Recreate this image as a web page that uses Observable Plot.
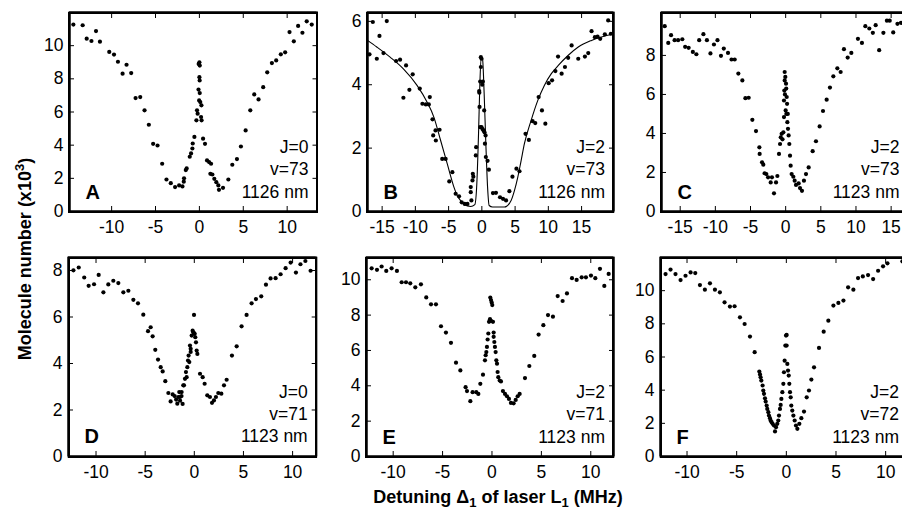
<!DOCTYPE html>
<html><head><meta charset="utf-8">
<script src="https://cdn.jsdelivr.net/npm/d3@7"></script>
<script src="https://cdn.jsdelivr.net/npm/@observablehq/plot@0.6"></script>
<style>
html,body{margin:0;padding:0;background:#fff;overflow:hidden}
#fig{position:relative;width:902px;height:508px;overflow:hidden;background:#fff;font-family:'Liberation Sans',Arial,Helvetica,sans-serif}
#fig .panel{position:absolute}
#fig .box{position:absolute;border:2px solid #000;box-sizing:border-box;pointer-events:none;z-index:5}
.title{position:absolute;font-weight:bold;font-size:18px;line-height:18px;white-space:nowrap;color:#000}
#xtitle{left:498px;top:488px;transform:translateX(-50%)}
#ytitle{left:25.3px;top:259px;transform:translate(-50%,-50%) rotate(-90deg)}
.title sub{font-size:13px;vertical-align:-3.5px;line-height:0}
.title sup{font-size:13px;vertical-align:7px;line-height:0}
</style>
</head><body>
<div id="fig">
  <div class="title" id="xtitle">Detuning Δ<sub>1</sub> of laser L<sub>1</sub> (MHz)</div>
  <div class="title" id="ytitle">Molecule number (x10<sup>3</sup>)</div>
</div>
<script>
// ---------- data ----------
const letters = ["A","B","C","D","E","F"];
const infoJ = ["J=0","J=2","J=2","J=0","J=2","J=2"];
const infoV = ["v=73","v=73","v=73","v=71","v=71","v=72"];
const infoNm = ["1126 nm","1126 nm","1123 nm","1123 nm","1123 nm","1123 nm"];

const xTicksA = [-10,-5,0,5,10];
const xTicksBC = [-15,-10,-5,0,5,10,15];
const xTicksDEF = [-10,-5,0,5,10];
const yTicksA = [0,2,4,6,8,10];
const yTicksB = [0,2,4,6];
const yTicksC = [0,2,4,6,8];
const yTicksD = [0,2,4,6,8];
const yTicksE = [0,2,4,6,8,10];
const yTicksF = [0,2,4,6,8,10];

const aX = [-14.36,-13.3,-12.84,-12.3,-11.78,-11.33,-10.27,-9.73,-9.28,-8.75,-8.3,-7.77,-7.27,-6.74,-6.25,-5.76,-5.27,-4.77,-4.24,-3.75,-3.26,-2.77,-2.31,-1.93,-1.78,-1.75,-1.55,-1.45,-1.1,-0.95,-0.8,-0.76,-0.57,-0.34,-0.27,-0.2,-0.08,0,0.04,0,0.03,-0.1,0.04,-0.03,0.1,0.23,0.19,0.25,0.42,0.64,0.87,1.1,1.33,1.25,1.48,1.7,1.93,2.16,2.23,2.69,3.3,3.75,4.28,4.73,5.27,5.8,6.25,6.74,7.27,7.73,8.26,8.75,9.28,9.77,10.27,10.76,11.25,11.74,12.23,12.8];
const aY = [11.27,11.23,10.42,10.28,10.88,10.24,9.62,9.46,9.03,8.31,8.85,8.35,6.84,6.9,6.1,5.23,4.08,3.98,2.88,1.93,1.71,1.47,1.57,1.51,1.8,2.0,2.5,2.6,3.3,3.5,3.8,4.1,4.5,5.5,6.1,5.9,8.9,9.0,8.8,8.1,7.9,7.35,7.14,6.7,6.6,6.4,5.7,5.5,4.39,4.08,3.08,2.98,2.88,2.27,2.23,1.97,1.77,1.57,1.31,1.43,1.93,2.82,3.16,3.92,4.89,6.1,7.06,6.76,7.5,8.39,8.95,9.11,9.48,9.6,10.82,10.26,11.19,10.78,11.47,11.27];

const bX = [-16.9,-16.4,-15.8,-15.4,-14.8,-14.3,-12.9,-12.3,-11.8,-11.4,-10.9,-10.4,-9.34,-8.94,-8.43,-7.98,-7.83,-7.42,-7.32,-6.97,-6.92,-6.36,-5.96,-5.45,-4.9,-4.44,-3.94,-3.43,-3.03,-2.58,-2.17,-1.67,-1.67,-1.57,-1.41,-1.36,-1.28,-0.91,-0.86,-0.4,-0.38,-0.25,-0.15,-0.05,-0.15,-0.05,-0.25,-0.35,0.1,0.25,0.15,0.05,0.35,0.4,0.56,0.46,0.6,0.86,1.06,1.67,2.12,2.73,3.18,3.64,4.14,4.6,5.2,5.66,6.57,7.07,7.63,8.03,8.54,9.04,9.55,10.05,10.56,11.06,11.46,12.0,12.5,12.98,13.5,14.5,15.5,16.0,16.5,17.0,17.4,17.8,18.5,19.0,19.4];
const bY = [4.96,5.98,4.82,5.54,5.0,6.01,4.75,4.79,3.59,4.61,3.84,4.33,3.88,3.4,3.38,3.38,3.61,2.91,2.4,2.56,2.24,2.58,1.66,1.66,0.95,1.24,0.56,0.48,0.29,0.24,0.24,0.61,0.77,0.35,0.98,1.19,1.1,1.77,2.03,3.8,3.75,4.1,4.87,4.82,4.56,2.66,2.66,3.3,2.6,2.56,4.1,4.0,3.19,2.5,2.4,2.14,1.72,1.6,1.32,0.58,0.59,0.45,0.4,0.35,0.64,1.1,1.35,1.27,2.45,2.26,2.85,2.79,3.61,3.19,2.77,4.05,4.14,4.43,4.89,4.35,4.56,4.85,5.24,4.82,4.89,5.0,5.69,5.5,5.52,5.45,5.59,6.03,5.61];
const bFitX = [-17.2,-15.8,-13.8,-11.8,-9.75,-8.23,-7.22,-6.2,-5.2,-4.2,-3.7,-3.2,-2.7,-1.67,-1.06,-0.76,-0.5,-0.3,-0.1,0.1,0.35,0.6,0.86,1.1,1.6,3.4,4.4,4.9,5.4,5.9,6.4,7.4,8.4,9.4,10.45,11.5,13,14.5,16.5,19.8];
const bFitY = [5.4,5.19,4.87,4.5,3.98,3.45,2.98,2.24,1.5,0.77,0.5,0.35,0.22,0.16,0.22,0.87,2.45,4.03,4.87,4.82,3.7,2.14,0.77,0.19,0.14,0.14,0.35,0.66,1.08,1.6,2.14,2.87,3.5,3.98,4.35,4.61,4.93,5.19,5.4,5.6];

const cX = [-17.2,-16.7,-16.3,-15.8,-15.3,-14.7,-14.3,-13.8,-13.2,-12.7,-12.3,-11.7,-11.2,-10.7,-10.2,-9.7,-9.2,-8.8,-8.2,-7.7,-7.25,-6.73,-6.16,-5.73,-5.26,-4.74,-4.22,-3.74,-3.7,-3.36,-3.18,-2.99,-2.75,-2.5,-2.13,-1.95,-1.66,-1.37,-1.18,-0.95,-0.8,-0.7,-0.57,-0.45,-0.33,-0.24,-0.24,-0.19,-0.14,-0.14,-0.1,0,0.1,0.24,0.33,0.42,0.52,0.62,0.71,0.85,1.09,1.28,1.47,1.85,2.04,2.32,2.6,2.89,3.27,3.84,4.31,4.83,5.31,5.83,6.3,6.78,7.35,7.82,8.29,8.82,9.34,10.28,10.85,11.33,11.9,12.4,12.8,13.3,13.9,14.4,14.8,15.3,15.9,16.4,-0.05,0.05,0.08,0.15,0.2,0.3];
const cY = [9.5,8.64,9.04,8.78,8.78,8.83,8.44,8.39,8.18,8.06,8.78,9.09,8.78,8.1,8.56,8.78,7.98,8.35,8.13,7.79,7.79,7.07,6.72,5.81,5.83,4.7,4.12,3.29,2.95,2.52,2.4,1.96,1.92,1.75,1.49,1.75,0.93,1.49,1.82,2.95,3.46,3.8,3.98,3.7,4.06,4.84,5.69,6.2,6.72,7.15,6.0,5.18,5.0,4.58,4.24,3.9,3.46,2.86,2.35,1.92,1.78,1.58,1.36,1.44,1.2,1.06,1.58,1.92,2.26,3.09,3.6,4.36,5.15,5.73,6.35,6.93,7.34,7.15,8.32,7.89,8.13,8.85,8.64,9.5,9.38,9.16,9.55,8.27,9.16,9.78,9.78,9.18,9.62,9.67,6.9,6.55,6.3,5.87,5.52,5.0];

const dX = [-12.3,-11.76,-11.2,-10.75,-10.2,-9.73,-9.25,-8.75,-8.24,-7.73,-7.22,-6.71,-6.2,-5.73,-5.19,-4.71,-4.44,-4.24,-3.97,-3.69,-3.42,-3.22,-2.95,-2.64,-2.41,-2.2,-2.0,-1.85,-1.73,-1.63,-1.53,-1.45,-1.3,-1.19,-1.12,-0.95,-0.85,-0.71,-0.64,-0.58,-0.44,-0.37,-0.27,-0.17,-0.03,0,0.03,0.1,0.17,0.24,0.31,0.58,0.85,1.05,1.32,1.59,1.8,2.0,2.2,2.44,2.75,3.02,3.29,3.83,4.31,4.81,5.32,5.83,6.27,6.81,7.29,7.76,8.27,8.78,9.29,9.8,10.34,10.8,11.3,11.83,-1.46,-1.29,-1.05,-0.78,-0.51,-0.37,-0.1];
const dY = [8.01,8.13,7.7,7.34,7.41,7.81,7.06,7.4,7.56,7.46,7.06,7.13,6.74,6.59,6.1,5.39,5.56,5.17,4.59,4.17,3.84,3.66,3.24,2.73,2.37,2.67,2.6,2.45,2.27,2.56,2.77,2.4,2.6,2.26,3.06,3.34,3.63,3.84,4.13,4.34,4.77,4.5,5.2,5.41,6.09,5.3,5.27,5.13,4.91,4.56,4.41,3.56,3.41,3.13,2.63,2.56,2.31,2.41,2.56,2.73,2.7,3.06,3.3,4.34,4.74,5.6,6.09,6.59,6.77,6.89,7.39,7.66,7.67,7.84,8.1,8.34,7.91,8.27,8.41,7.99,2.56,2.77,3.06,3.41,4.06,4.63,5.34];

const eX = [-12.18,-11.64,-11.17,-10.7,-10.16,-9.62,-9.14,-8.7,-8.27,-7.76,-7.19,-6.65,-6.17,-5.67,-5.16,-4.66,-4.15,-3.64,-3.2,-2.67,-2.53,-2.19,-1.96,-1.59,-1.38,-1.18,-0.91,-0.71,-0.64,-0.57,-0.51,-0.44,-0.37,-0.3,-0.2,-0.17,-0.1,-0.03,0.03,-0.1,0.1,0.17,0.17,0.24,0.3,0.37,0.44,0.51,0.57,0.64,0.78,0.91,1.11,1.32,1.52,1.72,1.92,2.19,2.4,2.6,2.8,3.34,3.78,4.28,4.72,5.2,5.67,6.17,6.65,7.15,7.59,8.1,8.57,9.08,9.51,10.02,10.46,10.93,11.37,11.81];
const eY = [10.65,10.56,10.75,10.5,10.65,10.5,9.86,9.86,9.8,9.57,9.74,9.0,8.61,8.61,7.37,7.01,6.43,5.31,4.87,3.92,3.7,3.13,3.64,3.64,3.54,4.11,4.63,5.44,5.73,5.91,6.2,6.62,6.96,7.62,7.77,8.99,8.85,8.72,8.57,7.67,7.62,7.01,6.77,6.48,6.2,5.91,5.44,5.25,4.78,4.49,4.3,4.25,3.7,3.54,3.41,3.26,3.03,3.01,3.2,3.41,3.54,4.44,5.12,5.69,6.9,7.43,8.0,7.91,9.08,8.8,9.23,10.09,9.99,10.14,10.14,10.24,10.09,10.62,9.65,10.33];

const fX = [-12.16,-11.66,-11.16,-10.65,-10.15,-9.64,-9.17,-8.7,-8.2,-7.69,-7.19,-6.69,-6.22,-5.68,-5.21,-4.67,-4.2,-3.66,-3.19,-2.72,-2.65,-2.59,-2.52,-2.39,-2.32,-2.25,-2.15,-2.08,-1.98,-1.92,-1.81,-1.75,-1.65,-1.58,-1.48,-1.38,-1.24,-1.14,-1.04,-0.91,-0.81,-0.74,-0.64,-0.57,-0.5,-0.4,-0.3,-0.24,-0.17,-0.1,-0.03,0.03,0.03,0.1,0.17,0.24,0.3,0.37,0.44,0.5,0.6,0.71,0.84,0.97,1.11,1.31,1.51,1.78,2.05,2.28,2.52,2.79,3.29,3.76,4.23,4.74,5.24,5.75,6.22,6.75,7.22,7.7,8.23,8.74,9.24,9.74,10.18,11.69];
const fY = [11.0,11.27,11.0,10.64,10.9,11.1,11.06,10.34,10.06,10.44,10.06,9.9,9.3,9.04,9.06,8.39,7.99,7.23,6.29,5.12,4.95,4.78,4.58,4.28,3.98,3.78,3.51,3.31,3.07,2.87,2.67,2.47,2.31,2.17,2.07,1.97,1.87,1.51,1.77,1.97,2.17,2.47,2.87,3.11,3.47,3.88,4.38,5.08,5.78,6.69,7.29,7.33,6.69,5.58,5.18,4.88,4.38,3.88,3.57,3.07,2.77,2.47,2.17,1.87,1.67,1.97,2.31,2.71,3.57,3.98,4.64,5.38,6.55,7.53,8.19,9.1,9.26,9.4,10.2,10.06,10.76,10.86,10.94,10.7,11.2,11.47,11.65,11.77];

// ---------- layout (frame placement in page pixels) ----------
const frames = [
  {left:68.5, top:12, w:247.5, h:199, xd:[-14.8,13.4], yd:[0,12.0]},
  {left:366.5, top:12, w:246, h:199, xd:[-17.2,19.8], yd:[0,6.28]},
  {left:660.5, top:12, w:246.5, h:199, xd:[-17.66,17.4], yd:[0,10.2]},
  {left:68.3, top:257, w:247.7, h:199, xd:[-12.8,12.4], yd:[0,8.56]},
  {left:365.7, top:257, w:247, h:199, xd:[-12.7,12.3], yd:[0,11.26]},
  {left:660, top:257, w:247, h:199, xd:[-12.67,12.2], yd:[0,12.0]}
];
const xs = [aX,bX,cX,dX,eX,fX], ys = [aY,bY,cY,dY,eY,fY];
const xT = [xTicksA,xTicksBC,xTicksBC,xTicksDEF,xTicksDEF,xTicksDEF];
const yT = [yTicksA,yTicksB,yTicksC,yTicksD,yTicksE,yTicksF];

const ML=50, MR=10, MT=8, MB=34;
const FONT = "'Liberation Sans', Arial, Helvetica, sans-serif";
const fig = document.getElementById("fig");
const fmt = d => String(d);
const blank = () => "";

frames.forEach((f,i) => {
  const pts = xs[i].map((x,k) => ({x, y: ys[i][k]}));
  const marks = [
    Plot.axisX(xT[i], {anchor:"bottom", tickSize:0, tickPadding:9, tickFormat:fmt, label:null}),
    Plot.axisY(yT[i], {anchor:"left", tickSize:0, tickPadding:6, tickFormat:fmt, label:null}),
    Plot.axisX(xT[i], {anchor:"bottom", tickSize:-5, tickFormat:blank, label:null}),
    Plot.axisY(yT[i], {anchor:"left", tickSize:-5, tickFormat:blank, label:null}),
    Plot.axisX(xT[i], {anchor:"top", tickSize:-5, tickFormat:blank, label:null}),
    Plot.axisY(yT[i], {anchor:"right", tickSize:-5, tickFormat:blank, label:null})
  ];
  if (i === 1) {
    const fit = bFitX.map((x,k) => ({x, y: bFitY[k]}));
    marks.push(Plot.line(fit, {x:"x", y:"y", stroke:"#000", strokeWidth:1.1, curve:"monotone-x"}));
  }
  marks.push(Plot.dot(pts, {x:"x", y:"y", r:2.1, fill:"#000", stroke:"none"}));
  marks.push(Plot.text([letters[i]], {text:d=>d, frameAnchor:"bottom-left", textAnchor:"start", lineAnchor:"bottom", dx:16, dy:-13, fontWeight:"bold", fontSize:20}));
  marks.push(Plot.text([`${infoJ[i]}\n${infoV[i]}\n${infoNm[i]}`], {text:d=>d, frameAnchor:"bottom-right", textAnchor:"end", lineAnchor:"bottom", dx:-8.5, dy:-14, lineHeight:1.26}));
  marks.push(Plot.ruleX(f.xd, {stroke:"#000", strokeWidth:2}));
  marks.push(Plot.ruleY(f.yd, {stroke:"#000", strokeWidth:2}));
  marks.push(Plot.frame({stroke:"#000", strokeWidth:2}));

  const svg = Plot.plot({
    width: f.w + ML + MR,
    height: f.h + MT + MB,
    marginLeft: ML, marginRight: MR, marginTop: MT, marginBottom: MB,
    x: {domain: f.xd, label: null},
    y: {domain: f.yd, label: null},
    style: {fontFamily: FONT, fontSize: "17.5px", color: "#000", background: "transparent", overflow: "visible"},
    marks
  });
  svg.classList.add("panel");
  const sl = f.left - ML, st = f.top - MT;
  svg.style.left = sl + "px";
  svg.style.top = st + "px";
  fig.appendChild(svg);

  // border box matching the plot frame (same place as Plot.frame)
  const box = document.createElement("div");
  box.className = "box";
  box.style.left = (sl + ML - 0.5) + "px";
  box.style.top = (st + MT - 0.5) + "px";
  box.style.width = (f.w + 2) + "px";
  box.style.height = (f.h + 2) + "px";
  fig.appendChild(box);
});
</script>
</body></html>
